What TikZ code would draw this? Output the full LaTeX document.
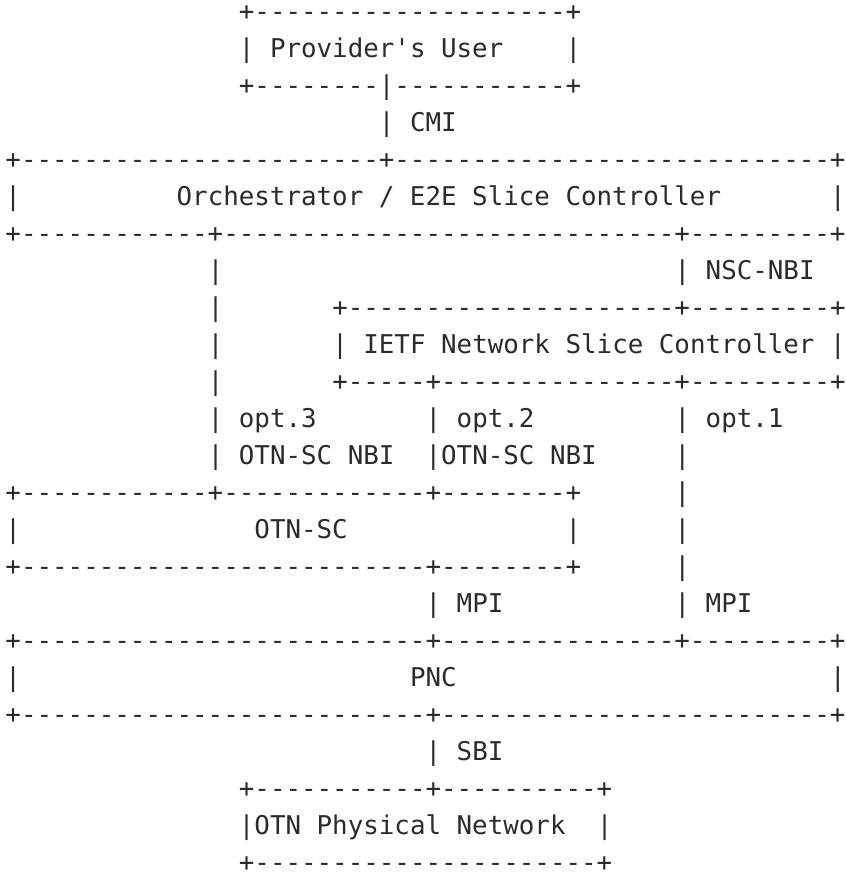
\documentclass[tikz,border=0pt]{standalone}
\usepackage{fontspec}
\setmonofont{DejaVu Sans Mono}
\definecolor{ink}{HTML}{2B2B2B}
\newcommand\dashrun[1]{\foreach\k in {1,...,#1}{-}}
\tikzset{
	asc/.style={font=\ttfamily\fontsize{25.84}{31}\selectfont, text=ink,
		anchor=base west, inner sep=0pt, outer sep=0pt}
}
\begin{document}
\begin{tikzpicture}[x=15.56pt,y=-37pt]
	\useasboundingbox (-5.5pt,-16.5pt) rectangle (840.5pt,-889.5pt);
	
	% provider's user
	\node[asc] (usertop) at (15,1) {+\dashrun{20}+};
	\node[asc] (userlbl) at (15,2) {| Provider's User};
	\node[asc] (userrgt) at (36,2) {|};
	\node[asc] (userbot) at (15,3) {+\dashrun{8}|\dashrun{11}+};
	\node[asc] (cmi) at (24,4) {| CMI};
	
	% orchestrator
	\node[asc] (orchtop) at (0,5) {+\dashrun{23}+\dashrun{28}+};
	\node[asc] (orchlft) at (0,6) {|};
	\node[asc] (orchlbl) at (11,6) {Orchestrator / E2E Slice Controller};
	\node[asc] (orchrgt) at (53,6) {|};
	\node[asc] (orchbot) at (0,7) {+\dashrun{12}+\dashrun{29}+\dashrun{9}+};
	\node[asc] (opt3a) at (13,8) {|};
	\node[asc] (nscnbi) at (43,8) {| NSC-NBI};
	
	% ietf nsc
	\node[asc] (opt3b) at (13,9) {|};
	\node[asc] (nsctop) at (21,9) {+\dashrun{21}+\dashrun{9}+};
	\node[asc] (opt3c) at (13,10) {|};
	\node[asc] (nsclbl) at (21,10) {| IETF Network Slice Controller |};
	\node[asc] (opt3d) at (13,11) {|};
	\node[asc] (nscbot) at (21,11) {+\dashrun{5}+\dashrun{15}+\dashrun{9}+};
	
	% options
	\node[asc] (opt3lbl) at (13,12) {| opt.3};
	\node[asc] (opt2lbl) at (27,12) {| opt.2};
	\node[asc] (opt1lbl) at (43,12) {| opt.1};
	\node[asc] (opt3nbi) at (13,13) {| OTN-SC NBI};
	\node[asc] (opt2nbi) at (27,13) {|OTN-SC NBI};
	\node[asc] (opt1a) at (43,13) {|};
	
	% otn-sc
	\node[asc] (otnsctop) at (0,14) {+\dashrun{12}+\dashrun{13}+\dashrun{8}+};
	\node[asc] (opt1b) at (43,14) {|};
	\node[asc] (otnsclft) at (0,15) {|};
	\node[asc] (otnsclbl) at (16,15) {OTN-SC};
	\node[asc] (otnscrgt) at (36,15) {|};
	\node[asc] (opt1c) at (43,15) {|};
	\node[asc] (otnscbot) at (0,16) {+\dashrun{26}+\dashrun{8}+};
	\node[asc] (opt1d) at (43,16) {|};
	\node[asc] (mpi2) at (27,17) {| MPI};
	\node[asc] (mpi1) at (43,17) {| MPI};
	
	% pnc
	\node[asc] (pnctop) at (0,18) {+\dashrun{26}+\dashrun{15}+\dashrun{9}+};
	\node[asc] (pnclft) at (0,19) {|};
	\node[asc] (pnclbl) at (26,19) {PNC};
	\node[asc] (pncrgt) at (53,19) {|};
	\node[asc] (pncbot) at (0,20) {+\dashrun{26}+\dashrun{25}+};
	\node[asc] (sbi) at (27,21) {| SBI};
	
	% otn physical network
	\node[asc] (phytop) at (15,22) {+\dashrun{11}+\dashrun{10}+};
	\node[asc] (phylbl) at (15,23) {|OTN Physical Network};
	\node[asc] (phyrgt) at (38,23) {|};
	\node[asc] (phybot) at (15,24) {+\dashrun{22}+};
	
\end{tikzpicture}
\end{document}
